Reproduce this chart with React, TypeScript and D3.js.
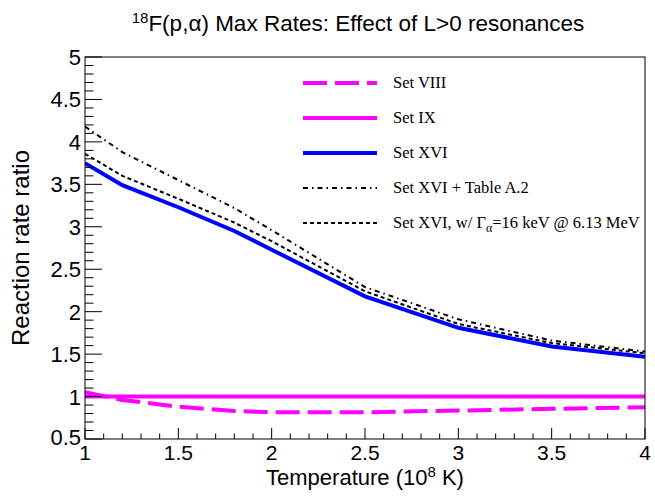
import React, { useMemo } from "react";
import * as d3 from "d3";

const temps = [1, 1.2, 1.5, 1.8, 2, 2.5, 3, 3.5, 4];
const setVIII = [1.05, 0.96, 0.88, 0.83, 0.815, 0.815, 0.835, 0.855, 0.875];
const setIX = [1, 1, 1, 1, 1, 1, 1, 1, 1];
const setXVI = [3.75, 3.49, 3.23, 2.95, 2.73, 2.18, 1.81, 1.59, 1.47];
const setXVITableA2 = [4.18, 3.88, 3.55, 3.22, 2.96, 2.29, 1.91, 1.66, 1.53];
const setXVIGamma = [3.86, 3.6, 3.33, 3.05, 2.83, 2.24, 1.855, 1.63, 1.51];

const xTicks = [1, 1.5, 2, 2.5, 3, 3.5, 4];
const xTickLabels = ["1", "1.5", "2", "2.5", "3", "3.5", "4"];
const yTicks = [0.5, 1, 1.5, 2, 2.5, 3, 3.5, 4, 4.5, 5];
const yTickLabels = ["0.5", "1", "1.5", "2", "2.5", "3", "3.5", "4", "4.5", "5"];

const series = [
  { key: "viii", label: "Set VIII", values: setVIII, color: "#ff00ff", width: 4, dash: "24,8" },
  { key: "ix", label: "Set IX", values: setIX, color: "#ff00ff", width: 4, dash: null },
  { key: "xvi", label: "Set XVI", values: setXVI, color: "#0000ff", width: 4, dash: null },
  { key: "a2", label: "Set XVI + Table A.2", values: setXVITableA2, color: "#000", width: 2, dash: "5,4,1.5,4" },
  { key: "gam", label: "gamma", values: setXVIGamma, color: "#000", width: 2, dash: "4,3" }
];

const W = 655;
const H = 496;
const margin = { top: 57, right: 10, bottom: 57, left: 85 };
const sans = "'Liberation Sans', Arial, Helvetica, sans-serif";
const serif = "'Liberation Serif', 'Times New Roman', serif";

export default function App() {
  const innerW = W - margin.left - margin.right;
  const innerH = H - margin.top - margin.bottom;

  const x = useMemo(() => d3.scaleLinear().domain([1, 4]).range([0, innerW]), [innerW]);
  const y = useMemo(() => d3.scaleLinear().domain([0.5, 5]).range([innerH, 0]), [innerH]);

  const line = d3
    .line<number>()
    .x((_, i) => x(temps[i]))
    .y((d) => y(d));

  const xMinor = d3.range(10, 41).map((v) => v / 10);
  const yMinor = d3.range(5, 51).map((v) => v / 10);

  return (
    <div style={{ position: "absolute", left: 0, top: 0 }}>
      <svg width={W} height={H} style={{ display: "block", background: "#fff" }}>
        <text x={358} y={31} textAnchor="middle" fontFamily={sans} fontSize={22.5}>
          <tspan fontSize={15} dy={-8}>18</tspan>
          <tspan dy={8}>F(p,α) Max Rates: Effect of L&gt;0 resonances</tspan>
        </text>

        <g transform={`translate(${margin.left},${margin.top})`}>
          <defs>
            <clipPath id="plotclip">
              <rect x={0} y={0} width={innerW} height={innerH} />
            </clipPath>
          </defs>

          <g clipPath="url(#plotclip)">
            {series.map((s) => (
              <path
                key={s.key}
                d={line(s.values) ?? ""}
                fill="none"
                stroke={s.color}
                strokeWidth={s.width}
                strokeDasharray={s.dash ?? undefined}
              />
            ))}
          </g>

          <rect x={0} y={0} width={innerW} height={innerH} fill="none" stroke="#000" strokeWidth={1} />

          {xMinor.map((t, i) => {
            const major = Math.abs(t * 2 - Math.round(t * 2)) < 1e-6;
            return (
              <line key={"xm" + i} x1={x(t)} x2={x(t)} y1={innerH} y2={innerH - (major ? 11 : 5.5)} stroke="#000" />
            );
          })}
          {yMinor.map((t, i) => {
            const major = Math.abs(t * 2 - Math.round(t * 2)) < 1e-6;
            return (
              <line key={"ym" + i} x1={0} x2={major ? 17 : 8.5} y1={y(t)} y2={y(t)} stroke="#000" />
            );
          })}

          {xTicks.map((t, i) => (
            <text key={"xl" + i} x={x(t)} y={innerH + 21} textAnchor="middle" fontFamily={sans} fontSize={21}>
              {xTickLabels[i]}
            </text>
          ))}
          {yTicks.map((t, i) => (
            <text key={"yl" + i} x={-4} y={y(t) + (i === 0 ? 6 : 8)} textAnchor="end" fontFamily={sans} fontSize={22}>
              {yTickLabels[i]}
            </text>
          ))}

          <text x={innerW / 2} y={innerH + 46} textAnchor="middle" fontFamily={sans} fontSize={22}>
            Temperature (10
            <tspan fontSize={15} dy={-8}>8</tspan>
            <tspan dy={8}> K)</tspan>
          </text>
          <text
            transform={`translate(${-56},${innerH / 2}) rotate(-90)`}
            textAnchor="middle"
            fontFamily={sans}
            fontSize={24}
          >
            Reaction rate ratio
          </text>

          {series.map((s, i) => {
            const ly = 26 + i * 35;
            return (
              <g key={"lg" + s.key}>
                <line
                  x1={218}
                  x2={292}
                  y1={ly}
                  y2={ly}
                  stroke={s.color}
                  strokeWidth={s.width}
                  strokeDasharray={s.dash ?? undefined}
                />
                <text x={308} y={ly + 5} fontFamily={serif} fontSize={16.5}>
                  {s.key === "gam" ? (
                    <>
                      Set XVI, w/ Γ<tspan fontSize={12} dy={4}>α</tspan>
                      <tspan dy={-4}>=16 keV @ 6.13 MeV</tspan>
                    </>
                  ) : (
                    s.label
                  )}
                </text>
              </g>
            );
          })}
        </g>
      </svg>
    </div>
  );
}
